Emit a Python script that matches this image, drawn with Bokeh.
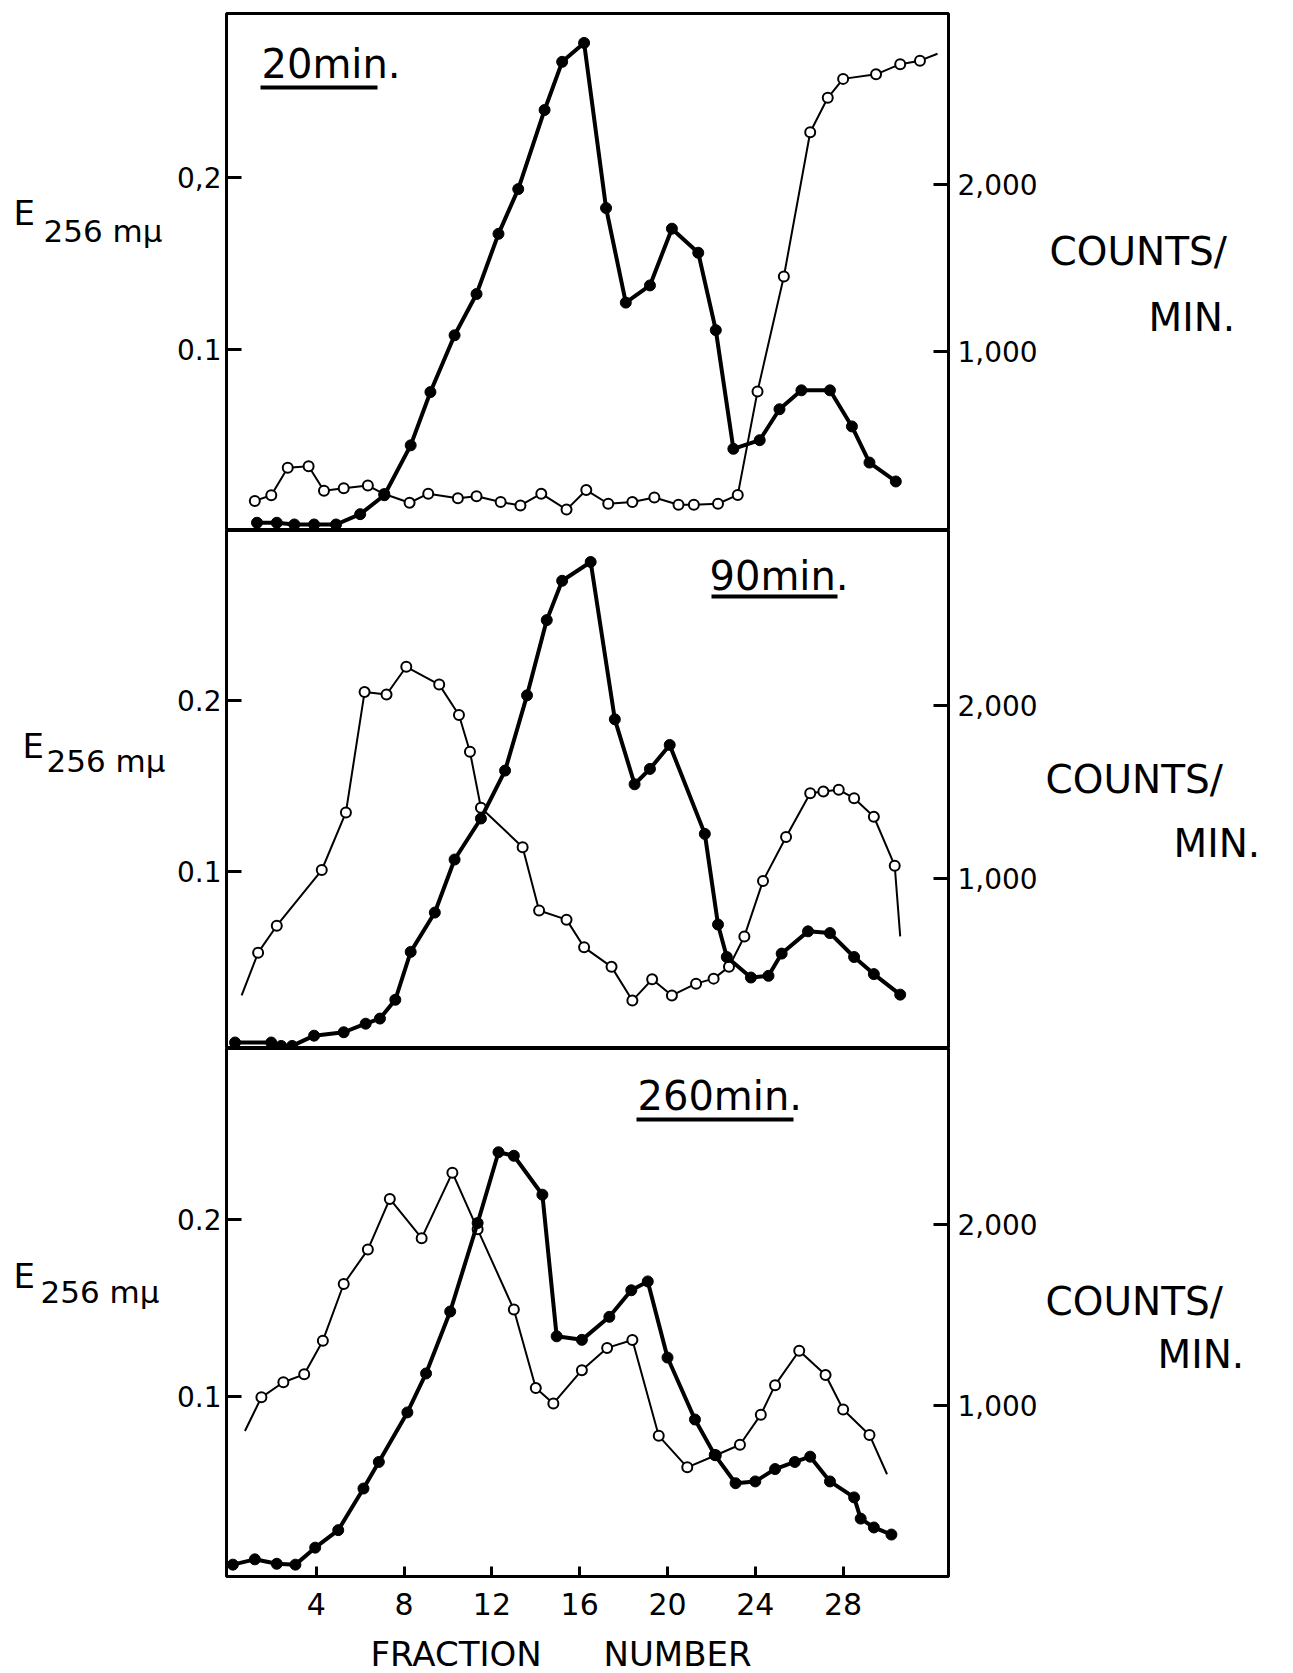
from bokeh.plotting import figure
from bokeh.models import Range1d, LinearAxis, FixedTicker, Label, BoxAnnotation, NumeralTickFormatter
from bokeh.layouts import column, row
from bokeh.embed import file_html
from bokeh.resources import INLINE

# ---------------- data ----------------
fraction_ticks = [4, 8, 12, 16, 20, 24, 28]
e_ticks = [0.1, 0.2]
count_ticks = [1000, 2000]
panel_titles = ["20min.", "90min.", "260min."]

# 20 min: E256 (filled circles)
p1_e_x = [1.3, 2.2, 3.0, 3.9, 4.9, 6.0, 7.1, 8.3, 9.2, 10.3, 11.3, 12.3, 13.2, 14.4, 15.2, 16.2,
          17.2, 18.1, 19.2, 20.2, 21.4, 22.2, 23.0, 24.2, 25.1, 26.1, 27.4, 28.4, 29.2, 30.4]
p1_e = [-0.001, -0.001, -0.002, -0.002, -0.002, 0.004, 0.015, 0.044, 0.075, 0.108, 0.132, 0.167,
        0.193, 0.239, 0.267, 0.278, 0.182, 0.127, 0.137, 0.170, 0.156, 0.111, 0.042, 0.047, 0.065,
        0.076, 0.076, 0.055, 0.034, 0.023]
# 20 min: counts/min (open circles); last point is the unmarked end of the curve
p1_c_x = [1.2, 1.95, 2.7, 3.65, 4.35, 5.25, 6.35, 7.1, 8.25, 9.1, 10.45, 11.3, 12.4, 13.3, 14.25,
          15.4, 16.3, 17.3, 18.4, 19.4, 20.5, 21.2, 22.3, 23.2, 24.1, 25.3, 26.5, 27.3, 28.0, 29.5,
          30.6, 31.5, 32.3]
p1_c = [109, 143, 307, 316, 170, 184, 201, 150, 98, 152, 125, 137, 102, 82, 152, 57, 174, 92, 102,
        129, 86, 86, 92, 145, 764, 1451, 2314, 2520, 2633, 2660, 2721, 2742, 2783]

# 90 min
p2_e_x = [0.3, 1.95, 2.4, 2.9, 3.9, 5.25, 6.25, 6.9, 7.6, 8.3, 9.4, 10.3, 11.5, 12.6, 13.6, 14.5,
          15.2, 16.5, 17.6, 18.5, 19.2, 20.1, 21.7, 22.3, 22.7, 23.8, 24.6, 25.2, 26.4, 27.4, 28.5,
          29.4, 30.6]
p2_e = [0.000, 0.000, -0.002, -0.002, 0.004, 0.006, 0.011, 0.014, 0.025, 0.053, 0.076, 0.107, 0.131,
        0.159, 0.203, 0.247, 0.270, 0.281, 0.189, 0.151, 0.160, 0.174, 0.122, 0.069, 0.050, 0.038,
        0.039, 0.052, 0.065, 0.064, 0.050, 0.040, 0.028]
# first and last points are the unmarked ends of the curve
p2_c_x = [0.6, 1.35, 2.2, 4.25, 5.35, 6.2, 7.2, 8.1, 9.6, 10.5, 11.0, 11.5, 13.4, 14.15, 15.4, 16.2,
          17.45, 18.4, 19.3, 20.2, 21.3, 22.1, 22.8, 23.5, 24.35, 25.4, 26.5, 27.1, 27.8, 28.5, 29.4,
          30.35, 30.6]
p2_c = [324, 571, 727, 1049, 1382, 2078, 2064, 2224, 2121, 1945, 1733, 1409, 1181, 815, 762, 602, 489,
        294, 417, 324, 392, 421, 489, 665, 986, 1240, 1493, 1503, 1513, 1464, 1357, 1074, 665]

# 260 min
p3_e_x = [0.2, 1.2, 2.2, 3.05, 3.95, 5.0, 6.15, 6.85, 8.15, 9.0, 10.1, 11.35, 12.3, 13.0, 14.3, 14.95,
          16.1, 17.35, 18.35, 19.1, 20.0, 21.25, 22.15, 23.1, 24.0, 24.9, 25.8, 26.5, 27.4, 28.5, 28.8,
          29.4, 30.2]
p3_e = [0.005, 0.008, 0.0055, 0.005, 0.0146, 0.0245, 0.048, 0.063, 0.091, 0.113, 0.148, 0.198, 0.238,
        0.236, 0.214, 0.134, 0.132, 0.145, 0.160, 0.165, 0.122, 0.087, 0.067, 0.051, 0.052, 0.059,
        0.063, 0.066, 0.052, 0.043, 0.031, 0.026, 0.022]
# first and last points are the unmarked ends of the curve
p3_c_x = [0.75, 1.5, 2.5, 3.45, 4.3, 5.25, 6.35, 7.35, 8.8, 10.2, 11.35, 13.0, 14.0, 14.8, 16.1, 17.25,
          18.4, 19.6, 20.9, 22.2, 23.3, 24.25, 24.9, 26.0, 27.2, 28.0, 29.2, 30.0]
p3_c = [859, 1045, 1128, 1172, 1358, 1671, 1861, 2141, 1924, 2286, 1973, 1530, 1096, 1011, 1195, 1318,
        1362, 832, 658, 725, 783, 949, 1112, 1302, 1168, 978, 837, 620]

FONT = "DejaVu Sans"
LW = 170          # left label strip width
RW = 250          # right label strip width
MW = 1293 - LW - RW


def blank(width, height):
    b = figure(width=width, height=height, output_backend="svg", toolbar_location=None,
               x_range=Range1d(0, width), y_range=Range1d(0, height),
               x_axis_location=None, y_axis_location=None, min_border=0,
               min_border_left=0, min_border_right=0, min_border_top=0, min_border_bottom=0,
               background_fill_color="white", border_fill_color="white", outline_line_color=None)
    b.grid.grid_line_color = None
    return b


def text(fig, t, x, y, size, units="data"):
    fig.add_layout(Label(x=x, y=y, x_units=units, y_units=units, text=t, text_font=FONT,
                         text_font_size=size, text_color="black", text_baseline="middle",
                         text_align="left"))


def make_panel(height, border_top, border_bottom, e_range, c_range, ex, ey, cx, cy,
               c_mark_slice, e_label_fmt, title, title_pos, ul, e_pos, sub_pos, counts_pos,
               min_pos, show_x):
    p = figure(width=MW, height=height, output_backend="svg", toolbar_location=None,
               x_range=Range1d(-0.09, 32.8), y_range=Range1d(*e_range),
               x_axis_location=("below" if show_x else None), y_axis_location=None,
               min_border_left=226 - LW, min_border_right=1043 - 948,
               min_border_top=border_top, min_border_bottom=border_bottom,
               background_fill_color="white", border_fill_color="white")
    p.extra_y_ranges = {"cpm": Range1d(*c_range)}
    p.grid.grid_line_color = None
    p.outline_line_color = "black"
    p.outline_line_width = 3

    left = LinearAxis(ticker=FixedTicker(ticks=e_ticks), axis_line_color=None,
                      major_tick_in=15, major_tick_out=0, major_tick_line_width=3,
                      minor_tick_line_color=None, major_label_standoff=5,
                      major_label_text_font=FONT, major_label_text_font_size="28px",
                      major_label_text_color="black")
    if e_label_fmt:
        left.major_label_overrides = e_label_fmt
    p.add_layout(left, "left")
    right = LinearAxis(y_range_name="cpm", ticker=FixedTicker(ticks=count_ticks),
                       formatter=NumeralTickFormatter(format="0,0"), axis_line_color=None,
                       major_tick_in=15, major_tick_out=0, major_tick_line_width=3,
                       minor_tick_line_color=None, major_label_standoff=9,
                       major_label_text_font=FONT, major_label_text_font_size="28px",
                       major_label_text_color="black")
    p.add_layout(right, "right")
    if show_x:
        xa = p.xaxis[0]
        xa.ticker = FixedTicker(ticks=fraction_ticks)
        xa.axis_line_color = None
        xa.major_tick_in = 10
        xa.major_tick_out = 0
        xa.major_tick_line_width = 3
        xa.minor_tick_line_color = None
        xa.major_label_standoff = 16
        xa.major_label_text_font = FONT
        xa.major_label_text_font_size = "30px"
        xa.major_label_text_color = "black"

    # counts / min (open circles, thin line)
    p.line(cx, cy, y_range_name="cpm", line_color="black", line_width=2)
    p.scatter(cx[c_mark_slice], cy[c_mark_slice], y_range_name="cpm", marker="circle", size=10,
              fill_color="white", line_color="black", line_width=2)
    # E256 (filled circles, thick line)
    p.line(ex, ey, line_color="black", line_width=4)
    p.scatter(ex, ey, marker="circle", size=11, fill_color="black", line_color="black")

    text(p, title, title_pos[0], title_pos[1], "40px", units="screen")
    p.add_layout(BoxAnnotation(left=ul[0], right=ul[1], bottom=ul[2] - 2, top=ul[2] + 2,
                               left_units="screen", right_units="screen",
                               top_units="screen", bottom_units="screen",
                               fill_color="black", fill_alpha=1.0, line_color=None))

    lf = blank(LW, height)
    text(lf, "E", e_pos[0], e_pos[1], "34px")
    text(lf, "256 mμ", sub_pos[0], sub_pos[1], "31px")
    rf = blank(RW, height)
    text(rf, "COUNTS/", counts_pos[0], counts_pos[1], "39px")
    text(rf, "MIN.", min_pos[0], min_pos[1], "39px")
    return row(lf, p, rf, spacing=0)


r1 = make_panel(530, 13, 0, (-0.0055, 0.2951), (-68, 3024), p1_e_x, p1_e, p1_c_x, p1_c,
                slice(0, -1), {0.2: "0,2"}, panel_titles[0], (35, 467), (34, 151, 443),
                (13, 325), (43, 307), (6, 286), (105, 218), False)
r2 = make_panel(518, 0, 0, (-0.0035, 0.2994), (17, 3012), p2_e_x, p2_e, p2_c_x, p2_c,
                slice(1, -1), None, panel_titles[1], (483, 473), (485, 611, 452),
                (22, 303), (46, 288), (2, 269), (130, 205), False)
r3 = make_panel(584, 0, 56, (-0.0017, 0.2966), (55, 2972), p3_e_x, p3_e, p3_c_x, p3_c,
                slice(1, -1), None, panel_titles[2], (411, 481), (410, 567, 457),
                (13, 332), (40, 315), (2, 304), (114, 246), True)

strip = blank(1293, 41)
text(strip, "FRACTION", 370, 20, "34px")
text(strip, "NUMBER", 603, 20, "34px")

layout = column(r1, r2, r3, strip, spacing=0)
open("out.html", "w").write(file_html(layout, INLINE))
